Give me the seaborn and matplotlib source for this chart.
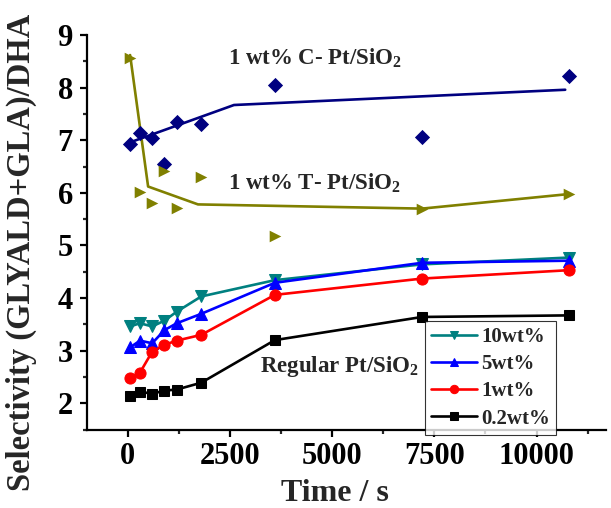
import matplotlib
matplotlib.use("Agg")
import matplotlib.pyplot as plt
import seaborn as sns
import numpy as np
from matplotlib.ticker import MultipleLocator
from matplotlib.font_manager import FontProperties

# ---- data ----
time_s = [60, 300, 600, 900, 1200, 1800, 3600, 7200, 10800]
sel_10wt = [3.46, 3.52, 3.46, 3.57, 3.74, 4.03, 4.34, 4.64, 4.77]
sel_5wt = [3.06, 3.19, 3.14, 3.39, 3.52, 3.70, 4.29, 4.67, 4.71]
sel_1wt = [2.47, 2.58, 2.98, 3.11, 3.19, 3.30, 4.06, 4.37, 4.53]
sel_02wt = [2.14, 2.22, 2.18, 2.24, 2.26, 2.39, 3.20, 3.64, 3.67]

c_pt_points = [6.93, 7.13, 7.05, 6.55, 7.35, 7.31, 8.05, 7.07, 8.22]
t_pt_points = [8.57, 6.02, 5.80, 6.42, 5.72, 6.31, 5.18, 5.70, 5.97]

c_line_x = [60, 2600, 10700]
c_line_y = [6.96, 7.67, 7.96]
t_line_x = [60, 500, 1720, 7200, 10700]
t_line_y = [8.62, 6.12, 5.78, 5.70, 5.97]

legend_labels = ["10wt%", "5wt%", "1wt%", "0.2wt%"]
text_c = "1 wt% C- Pt/SiO$_\\mathbf{2}$"
text_t = "1 wt% T- Pt/SiO$_\\mathbf{2}$"
text_reg = "Regular Pt/SiO$_\\mathbf{2}$"

# ---- style ----
sns.set_style("ticks")
plt.rcParams['font.family'] = ['Liberation Serif', 'DejaVu Serif']
plt.rcParams['font.weight'] = 'bold'
plt.rcParams['mathtext.fontset'] = 'custom'
plt.rcParams['mathtext.rm'] = 'Liberation Serif:bold'
plt.rcParams['mathtext.bf'] = 'Liberation Serif:bold'

bold = dict(family="Liberation Serif", weight="bold")

fig = plt.figure(figsize=(6.11, 5.08), dpi=100)
ax = fig.add_axes([0.142, 0.1545, 0.850, 0.7765])

lw = 1.9
series = [
    (sel_10wt, "#008080", "v", 8.5),
    (sel_5wt, "#0000FF", "^", 8.5),
    (sel_1wt, "#FF0000", "o", 8),
    (sel_02wt, "#000000", "s", 7),
]
for (vals, col, mk, ms), lab in zip(series, legend_labels):
    sns.lineplot(x=time_s, y=vals, ax=ax, color=col, marker=mk, markersize=ms,
                 markeredgecolor=col, linewidth=lw, label=lab, sort=False)

# fitted lines for C- and T- catalysts
sns.lineplot(x=c_line_x, y=c_line_y, ax=ax, color="#000080", linewidth=lw, sort=False, legend=False)
sns.lineplot(x=t_line_x, y=t_line_y, ax=ax, color="#808000", linewidth=lw, sort=False, legend=False)
sns.scatterplot(x=time_s, y=c_pt_points, ax=ax, color="#000080", marker="D", s=60,
                edgecolor="#000080", linewidth=0, legend=False, zorder=5)
sns.scatterplot(x=time_s, y=t_pt_points, ax=ax, color="#808000", marker=">", s=70,
                edgecolor="#808000", linewidth=0, legend=False, zorder=5)

ax.set_xlim(-1000, 11700)
ax.set_ylim(1.5, 9)
ax.xaxis.set_major_locator(MultipleLocator(2500))
ax.xaxis.set_minor_locator(MultipleLocator(1250))
ax.yaxis.set_major_locator(MultipleLocator(1))
ax.yaxis.set_minor_locator(MultipleLocator(0.5))
sns.despine(ax=ax)
for s in ["left", "bottom"]:
    ax.spines[s].set_linewidth(1.6)
    ax.spines[s].set_color("black")
ax.tick_params(which="major", direction="out", length=5, width=1.6, labelsize=22, colors="black")
ax.tick_params(axis="y", which="major", pad=5)
ax.tick_params(axis="x", which="major", pad=4)
ax.tick_params(which="minor", direction="out", length=3, width=1.6)

ax.set_xlabel("Time / s", fontsize=23, **bold)
ax.set_ylabel("Selectivity (GLYALD+GLA)/DHA", fontsize=23.5, **bold)
ax.xaxis.set_label_coords(0.478, -0.125)
ax.yaxis.set_label_coords(-0.096, 0.45)

ax.text(2450, 8.57, text_c, fontsize=16.5, va="center", ha="left", **bold)
ax.text(2450, 6.19, text_t, fontsize=16.5, va="center", ha="left", **bold)
ax.text(3230, 2.69, text_reg, fontsize=16.5, va="center", ha="left", **bold)

leg = ax.legend(loc="upper left", bbox_to_anchor=(0.651, 0.276), borderaxespad=0,
                frameon=True, fancybox=False, edgecolor="black",
                handlelength=2.2, handletextpad=0.2, labelspacing=0.35, borderpad=0.3,
                prop=FontProperties(family="Liberation Serif", weight="bold", size=15))
leg.get_frame().set_linewidth(0.8)
for h in leg.legend_handles:
    h.set_markersize(6)

fig.canvas.draw()
for lab in ax.get_xticklabels() + ax.get_yticklabels():
    lab.set_fontweight("bold")
    lab.set_family("Liberation Serif")

fig.savefig("out.png", dpi=100)
